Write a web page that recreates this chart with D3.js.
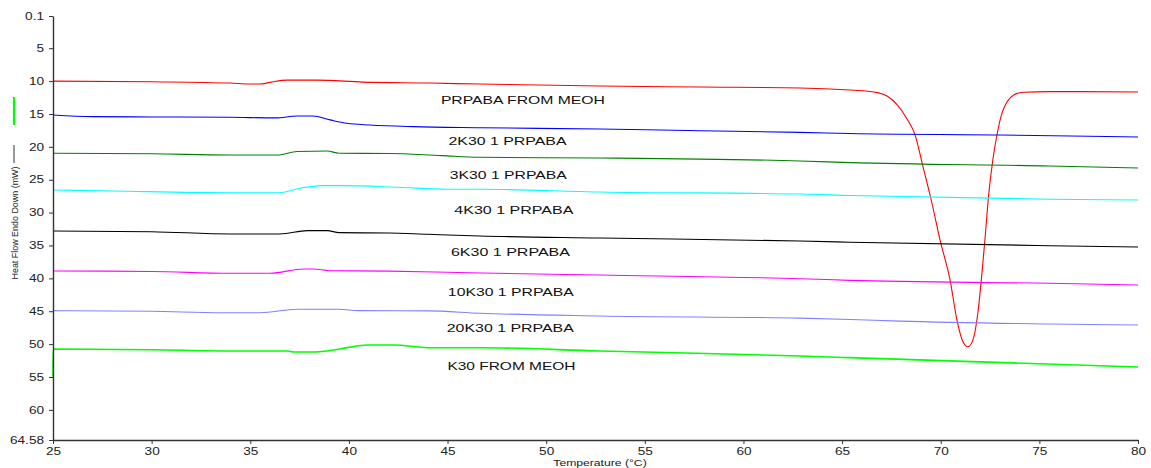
<!DOCTYPE html>
<html>
<head>
<meta charset="utf-8">
<script src="https://cdn.jsdelivr.net/npm/d3@7"></script>
<style>
  html, body { margin: 0; padding: 0; background: #fff; }
  svg { display: block; font-family: Arial, "Liberation Sans", sans-serif; }
</style>
</head>
<body>
<svg id="chart" width="1151" height="468"></svg>
<script>
// ---- Data ----
const xTicks = [25, 30, 35, 40, 45, 50, 55, 60, 65, 70, 75, 80];
const yTicks = [0.1, 5, 10, 15, 20, 25, 30, 35, 40, 45, 50, 55, 60, 64.58];

const redT = [25, 30, 33.97, 35.0, 35.49, 36.0, 36.86, 38.38, 40.71, 44.1, 46.64, 52.72, 57.79, 62.86, 65.4, 66.2, 66.8, 67.3, 67.8, 68.3, 68.69, 69.10, 69.55, 69.96, 70.47, 70.82, 71.12, 71.38, 71.63, 71.88, 72.09, 72.24, 72.44, 72.64, 72.85, 73.10, 73.35, 73.70, 74.2, 75.53, 80];
const redV = [10.0, 10.1, 10.3, 10.45, 10.45, 10.2, 9.85, 9.85, 10.15, 10.3, 10.45, 10.75, 10.9, 11.05, 11.35, 11.5, 11.75, 12.3, 13.6, 15.8, 18.1, 23.0, 28.5, 34.1, 40.2, 46.3, 49.6, 50.4, 49.4, 45.3, 39.2, 34.1, 27.0, 22.0, 18.2, 14.9, 13.2, 12.1, 11.7, 11.6, 11.65];

const blueT = [25, 27.03, 30, 33.97, 36.3, 37.37, 38.18, 39.04, 39.9, 41.07, 43.25, 46.64, 52.72, 57.8, 62.86, 65.4, 73.0, 80];
const blueV = [15.15, 15.41, 15.45, 15.5, 15.6, 15.31, 15.31, 15.9, 16.42, 16.68, 16.93, 17.09, 17.28, 17.55, 17.8, 17.98, 18.2, 18.5];

const greenT = [25, 30, 33.97, 36.4, 37.37, 38.9, 39.5, 42.0, 44.7, 46.64, 52.72, 62.86, 65.4, 75.53, 80];
const greenV = [20.98, 21.05, 21.24, 21.24, 20.7, 20.63, 20.98, 21.0, 21.34, 21.59, 21.69, 22.15, 22.4, 22.91, 23.21];

const cyanT = [25, 28.0, 33.97, 36.5, 37.5, 38.7, 39.7, 42.5, 45.0, 46.64, 52.72, 62.86, 65.4, 75.53, 80];
const cyanV = [26.56, 26.71, 26.97, 26.97, 26.3, 25.9, 25.9, 26.15, 26.45, 26.45, 26.86, 27.17, 27.4, 27.97, 28.08];

const blackT = [25, 30, 33.97, 36.5, 37.9, 38.9, 39.5, 42.0, 44.0, 46.64, 52.72, 62.86, 65.4, 75.53, 80];
const blackV = [32.79, 32.9, 33.25, 33.25, 32.74, 32.74, 33.05, 33.1, 33.3, 33.55, 33.86, 34.32, 34.5, 35.03, 35.23];

const magentaT = [25, 30, 33.97, 36.0, 37.7, 38.2, 39.0, 42.0, 45.0, 47.5, 52.72, 62.86, 65.4, 75.53, 80];
const magentaV = [38.88, 38.95, 39.23, 39.23, 38.57, 38.57, 38.83, 38.9, 39.07, 39.23, 39.49, 40.05, 40.3, 40.75, 41.0];

const lavenderT = [25, 30, 33.5, 35.5, 37.37, 39.5, 40.5, 44.0, 46.64, 52.72, 62.86, 65.4, 67.9, 75.53, 80];
const lavenderV = [44.91, 45.0, 45.22, 45.22, 44.7, 44.7, 44.91, 44.95, 45.31, 45.72, 46.05, 46.25, 46.5, 46.94, 47.09];

const k30T = [25, 25.01, 30, 33.97, 36.9, 37.2, 38.1, 39.0, 40.0, 40.9, 42.3, 44.0, 46.64, 52.72, 62.86, 65.4, 80];
const k30V = [54.95, 50.74, 50.85, 51.04, 51.04, 51.19, 51.19, 51.0, 50.5, 50.13, 50.13, 50.54, 50.54, 51.04, 51.8, 52.06, 53.48];

const seriesNames = ["PRPABA FROM MEOH", "2K30 1 PRPABA", "3K30 1 PRPABA", "4K30 1 PRPABA", "6K30 1 PRPABA", "10K30 1 PRPABA", "20K30 1 PRPABA", "K30 FROM MEOH"];
const seriesColors = ["#ff0000", "#0000ff", "#008000", "#00ffff", "#000000", "#ff00ff", "#8080ff", "#00ff00"];
const seriesT = [redT, blueT, greenT, cyanT, blackT, magentaT, lavenderT, k30T];
const seriesV = [redV, blueV, greenV, cyanV, blackV, magentaV, lavenderV, k30V];
// label anchor positions in data units (temperature, heat flow)
const labelT = [48.82, 48.04, 48.08, 48.36, 48.19, 48.21, 48.18, 48.24];
const labelV = [12.9, 19.1, 24.4, 29.7, 36.0, 42.2, 47.6, 53.4];
const labelLen = [164, 118, 117, 119, 119, 126, 127, 128];

// ---- Layout ----
const svg = d3.select("#chart");
const x = d3.scaleLinear().domain([25, 80]).range([53, 1138]);
const y = d3.scaleLinear().domain([0.1, 64.58]).range([16, 440]);
const stretch = 1.36;

function stretchTexts(sel, k) {
  sel.each(function () {
    const w = this.getComputedTextLength();
    d3.select(this).attr("textLength", w * k).attr("lengthAdjust", "spacingAndGlyphs");
  });
}

// Curves
const line = d3.line().x(d => x(d[0])).y(d => y(d[1])).curve(d3.curveMonotoneX);
seriesT.forEach((ts, i) => {
  const pts = ts.map((t, j) => [t, seriesV[i][j]]);
  svg.append("path")
    .attr("d", line(pts))
    .attr("fill", "none")
    .attr("stroke", seriesColors[i])
    .attr("stroke-width", i === 7 ? 1.6 : 1.1)
    .attr("stroke-linejoin", "round");
});

// Labels
seriesNames.forEach((name, i) => {
  svg.append("text")
    .attr("x", x(labelT[i]))
    .attr("y", y(labelV[i]) + 3.6)
    .attr("text-anchor", "middle")
    .attr("font-size", 10.5)
    .attr("fill", "#111")
    .attr("textLength", labelLen[i])
    .attr("lengthAdjust", "spacingAndGlyphs")
    .text(name);
});

// Axes
const yAxis = d3.axisLeft(y).tickValues(yTicks).tickSize(4).tickSizeOuter(0).tickPadding(5)
  .tickFormat(d => (d === 0.1 || d === 64.58) ? String(d) : d3.format("d")(d));
const gy = svg.append("g").attr("transform", "translate(53,0)").call(yAxis);

const xAxis = d3.axisBottom(x).tickValues(xTicks).tickSize(4).tickSizeOuter(0).tickPadding(4)
  .tickFormat(d3.format("d"));
const gx = svg.append("g").attr("transform", "translate(0,440)").call(xAxis);

[gx, gy].forEach(g => {
  g.select(".domain").attr("stroke", "#333").attr("stroke-width", 1.4);
  g.selectAll(".tick line").attr("stroke", "#333");
  g.selectAll(".tick text").attr("font-size", 10).attr("fill", "#222")
    .attr("font-family", "Arial, 'Liberation Sans', sans-serif");
  stretchTexts(g.selectAll(".tick text"), stretch);
});

// Axis titles
const xt = svg.append("text")
  .attr("x", 600).attr("y", 465.5)
  .attr("text-anchor", "middle").attr("font-size", 9.5).attr("fill", "#222")
  .text("Temperature (°C)");
stretchTexts(xt, 1.28);

svg.append("text")
  .attr("transform", "translate(17.5,223) rotate(-90)")
  .attr("text-anchor", "middle").attr("font-size", 9.5).attr("fill", "#222")
  .attr("textLength", 113).attr("lengthAdjust", "spacingAndGlyphs")
  .text("Heat Flow Endo Down (mW)");

// small legend marks beside the y title
svg.append("line").attr("x1", 14).attr("x2", 14).attr("y1", 145).attr("y2", 163)
  .attr("stroke", "#333").attr("stroke-width", 1);
svg.append("line").attr("x1", 14).attr("x2", 14).attr("y1", 97).attr("y2", 125)
  .attr("stroke", "#00ff00").attr("stroke-width", 2.2);
</script>
</body>
</html>
